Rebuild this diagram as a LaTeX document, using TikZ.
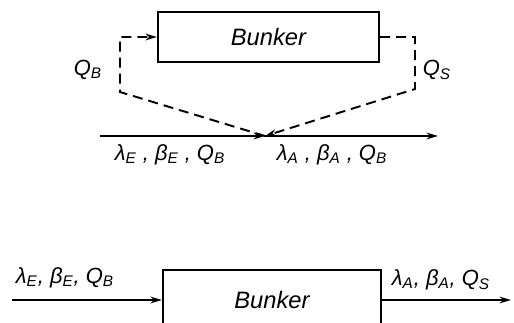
\documentclass[tikz,border=0pt]{standalone}
\usepackage{fontspec}
\setmainfont{Liberation Sans}
\usetikzlibrary{arrows.meta,positioning,calc}
\newcommand{\idx}[2]{#1\textsubscript{#2}}

\begin{document}
\begin{tikzpicture}[x=0.02cm, y=-0.02cm, every node/.style={font=\itshape\fontsize{12.5}{15}\selectfont}]
\tikzset{
  bunkerbox/.style={draw=black, line width=1.3pt, minimum width=4.42cm, minimum height=1cm, font=\itshape\fontsize{13.5}{16}\selectfont},
  feed/.style={-{Stealth[length=6.5pt,width=3.8pt]}, line width=1.1pt},
  recycle/.style={feed, dash pattern=on 0.2cm off 0.12cm},
  flowlabel/.style={inner sep=1pt}
}
\useasboundingbox (0,0) rectangle (514,323);
\clip (0,0) rectangle (514,323);
% upper scheme
\node[bunkerbox] (bunker) at (268.5,37) {Bunker};
\coordinate (mix) at (265,136);
\coordinate (feedin) at (100,136);
\coordinate (feedout) at (438,136);
\coordinate (bendB) at (120,92);
\coordinate (bendS) at (415,89);
\draw[feed] (feedin) -- (mix);
\draw[feed] (mix) -- (feedout);
\draw[recycle] (mix) -- (bendB) |- (bunker.west);
\draw[recycle] (bunker.east) -| (bendS) -- (mix);
\node[flowlabel] (labQB) at (88,70) {\idx{Q}{B}};
\node[flowlabel] (labQS) at (437,70) {\idx{Q}{S}};
\node[flowlabel] (labin) at (170,155) {\idx{λ}{E} , \idx{β}{E} , \idx{Q}{B}};
\node[flowlabel] (labout) at (332,155) {\idx{λ}{A} , \idx{β}{A} , \idx{Q}{B}};
% lower scheme
\node[bunkerbox, minimum width=4.36cm, minimum height=1.2cm] (bunkerL) at (272,300) {Bunker};
\coordinate (inL) at (12,300);
\coordinate (outL) at (511,300);
\draw[feed] (inL) -- (bunkerL.west);
\draw[feed] (bunkerL.east) -- (outL);
\node[flowlabel] (labinL) at (65,278) {\idx{λ}{E}, \idx{β}{E}, \idx{Q}{B}};
\node[flowlabel] (laboutL) at (441,280) {\idx{λ}{A}, \idx{β}{A}, \idx{Q}{S}};
\end{tikzpicture}
\end{document}
